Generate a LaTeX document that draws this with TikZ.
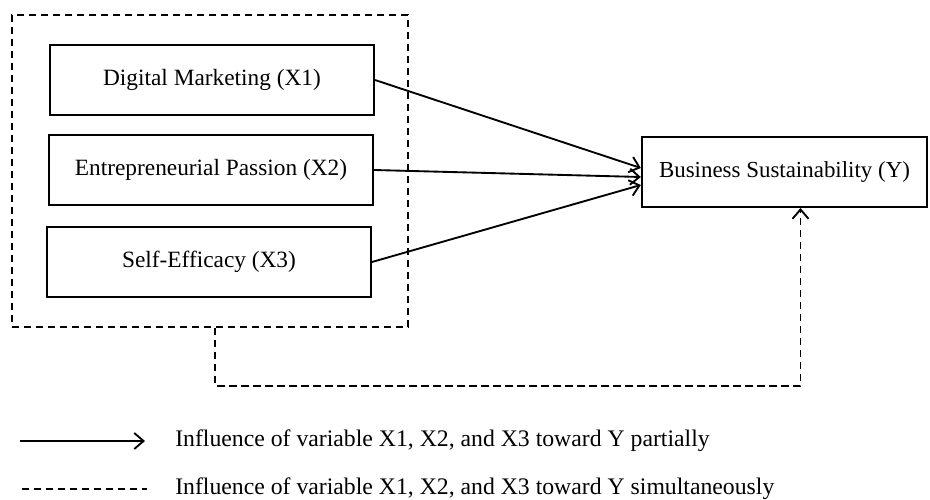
\documentclass[tikz,border=0pt]{standalone}
\usepackage{fontspec}
\setmainfont{Liberation Serif}
\usetikzlibrary{arrows.meta}

\tikzset{
    varbox/.style={draw, line width=1.5pt, minimum width=243pt, minimum height=52pt,
        inner sep=0pt, font=\fontsize{17.5}{20}\selectfont},
    grpbox/.style={draw, line width=1.5pt, dash pattern=on 5.5pt off 3.5pt, inner sep=0pt},
    arr/.style={line width=1.4pt, -{Straight Barb[length=7pt,width=12pt,line width=1.4pt]}},
    dasharr/.style={arr, dash pattern=on 5.5pt off 3.5pt},
    legtext/.style={anchor=west, inner sep=0pt, font=\fontsize{17.8}{20}\selectfont}
}

\begin{document}
\begin{tikzpicture}[x=0.75pt, y=-0.75pt]
    \useasboundingbox (0,0) rectangle (930,499);

    % Draw group of independent variables
    \node[grpbox, minimum width=297pt, minimum height=234pt] (grp) at (210,171) {};

    % Draw variable boxes
    \node[varbox] (x1) at (212,80) {Digital Marketing (X1)};
    \node[varbox] (x2) at (211,170) {Entrepreneurial Passion (X2)};
    \node[varbox] (x3) at (209,262) {Self-Efficacy (X3)};
    \node[varbox, minimum width=214pt, minimum height=52.5pt, font=\fontsize{17.2}{20}\selectfont] (y) at (784.5,172) {Business Sustainability (Y)};

    % Partial influence
    \draw[arr] (x1.east) -- ([yshift=3pt]y.west);
    \draw[arr] (x2.east) -- ([yshift=-3.75pt]y.west);
    \draw[arr] (x3.east) -- ([yshift=-9.75pt]y.west);

    % Simultaneous influence
    \draw[dasharr] ([xshift=4pt]grp.south) -- ++(0,58) -| ([xshift=12pt]y.south);

    % Legend
    \coordinate (la) at (20,441);
    \coordinate (lb) at (145,441);
    \coordinate (lc) at (22,489);
    \coordinate (ld) at (147,489);
    \draw[arr] (la) -- (lb);
    \draw[line width=1.4pt, dash pattern=on 5.5pt off 3.5pt] (lc) -- (ld);
    \node[legtext] (t1) at (175,441) {Influence of variable X1, X2, and X3 toward Y partially};
    \node[legtext] (t2) at (175,489) {Influence of variable X1, X2, and X3 toward Y simultaneously};
\end{tikzpicture}
\end{document}
